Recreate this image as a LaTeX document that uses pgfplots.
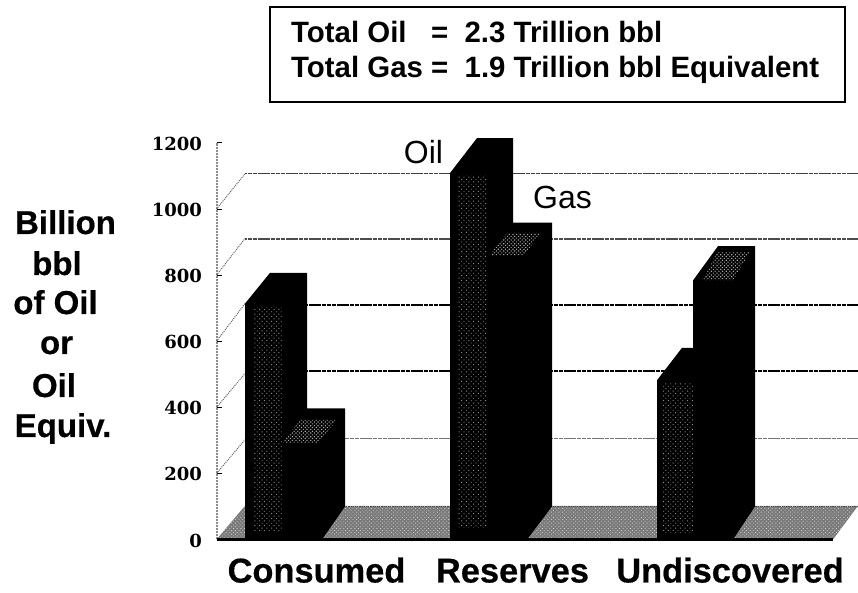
\documentclass[border=0pt]{standalone}
\usepackage{fontspec}
\setmainfont{Liberation Sans}
\newfontfamily\tickfont{DejaVu Serif}
\newfontfamily\heavyfont{Liberation Sans Bold}[FakeBold=0.5]
\usepackage{pgfplots}
\pgfplotsset{compat=1.18}
\usetikzlibrary{patterns.meta}
\pgfplotsset{
  bar solid/.style={draw=none,fill=black,forget plot},
  speckle/.style={draw=none,forget plot,
    pattern={Dots[radius=0.65pt,distance=3.4pt,angle=45]},pattern color=black!45},
  top speckle/.style={draw=none,forget plot,
    pattern={Dots[radius=0.8pt,distance=2.6pt,angle=45]},pattern color=black!35},
  floor speckle/.style={draw=none,forget plot,
    pattern={Dots[radius=0.6pt,distance=2.6pt,angle=45]},pattern color=black!20},
  wall/.style={forget plot,line width=#1,dash pattern=on 2.2pt off 0.35pt},
  stub/.style={forget plot,draw=black!60,line width=1pt,densely dotted},
}
\newcommand{\bigfont}[1]{\fontsize{#1}{#1}\selectfont}
\begin{document}
\begin{tikzpicture}[x=1pt,y=1pt]
\useasboundingbox (0,0) rectangle (858,593);
\begin{axis}[
  at={(216.5pt,53.5pt)},anchor=south west,
  scale only axis,width=641.5pt,height=396.5pt,
  xmin=216.5,xmax=858,ymin=0,ymax=1200,clip=false,
  axis y line*=left,axis x line*=bottom,
  x axis line style={draw=none,-},
  y axis line style={draw=black!45,line width=2pt,densely dotted,-},
  ytick={0,200,400,600,800,1000,1200},
  xtick={316.5,512.5,730},
  xticklabels={Consumed,Reserves,Undiscovered},
  major tick length=5pt,
  every tick/.style={black,line width=1pt},
  x tick style={draw=none},
  /pgf/number format/assume math mode=true,
  /pgf/number format/1000 sep={},
  yticklabel style={font=\tickfont\bfseries\bigfont{18},anchor=east,xshift=-11pt,yshift=-1pt},
  xticklabel style={font=\heavyfont\bigfont{34.4},anchor=base,yshift=-43pt},
]
% side-wall and back-wall gridlines
\addplot[stub] coordinates {(216.5,200)(245,302)};
\addplot[stub] coordinates {(216.5,400)(245,502)};
\addplot[stub] coordinates {(216.5,600)(245,714)};
\addplot[stub] coordinates {(216.5,800)(245,911)};
\addplot[stub] coordinates {(216.5,1000)(245,1107)};
\addplot[wall=0.8pt,draw=black!55] coordinates {(245,306)(858,306)};
\addplot[wall=1.4pt,draw=black] coordinates {(245,510)(858,510)};
\addplot[wall=1.8pt,draw=black] coordinates {(245,710)(858,710)};
\addplot[wall=1.5pt,draw=black!70] coordinates {(245,909)(858,909)};
\addplot[wall=1.3pt,draw=black!75] coordinates {(245,1108)(858,1108)};
% chart floor
\addplot[draw=none,fill=black!52,forget plot] coordinates {(216.5,0)(833,0)(858,102)(245,102)} -- cycle;
\addplot[floor speckle] coordinates {(216.5,0)(833,0)(858,102)(245,102)} -- cycle;
\addplot[forget plot,draw=black!70,line width=1.2pt,densely dotted] coordinates {(245,100)(858,100)};
\addplot[forget plot,draw=black,line width=2.2pt] coordinates {(216.5,0)(833,0)};
% Consumed
\addplot[bar solid] coordinates {(245,0)(245,714)(270,807)(307,807)(307,100)(283,0)} -- cycle;
\addplot[speckle] coordinates {(253,28)(282,28)(282,703)(253,703)} -- cycle;
\addplot[bar solid] coordinates {(283,0)(283,292)(307,397)(345,397)(345,100)(322,0)} -- cycle;
\addplot[top speckle] coordinates {(283,293)(318,293)(337,362)(300,362)} -- cycle;
% Reserves
\addplot[bar solid] coordinates {(450,0)(450,1109)(477,1215)(513,1215)(513,100)(488,0)} -- cycle;
\addplot[speckle] coordinates {(458,35)(487,35)(487,1103)(458,1103)} -- cycle;
\addplot[bar solid] coordinates {(488,0)(488,860)(513,959)(552,959)(552,100)(527,0)} -- cycle;
\addplot[top speckle] coordinates {(490,861)(524,861)(541,928)(507,928)} -- cycle;
% Undiscovered
\addplot[bar solid] coordinates {(657,0)(657,482)(682,580)(718,580)(718,100)(693,0)} -- cycle;
\addplot[speckle] coordinates {(663,20)(693,20)(693,475)(663,475)} -- cycle;
\addplot[bar solid] coordinates {(693,0)(693,784)(718,888)(755,888)(755,100)(733,0)} -- cycle;
\addplot[top speckle] coordinates {(703,785)(733,785)(750,870)(717,870)} -- cycle;
\end{axis}
% series names
\node[font=\bigfont{32}] at (423.5,441) {Oil};
\node[font=\bigfont{32}] at (562.5,396) {Gas};
% vertical title, one centred word per line
\node[anchor=base,font=\heavyfont\bigfont{33}] at (65.5,359) {Billion};
\node[anchor=base,font=\heavyfont\bigfont{33}] at (57,318) {bbl};
\node[anchor=base,font=\heavyfont\bigfont{33}] at (55.5,279) {of Oil};
\node[anchor=base,font=\heavyfont\bigfont{33}] at (56.5,239) {or};
\node[anchor=base,font=\heavyfont\bigfont{33}] at (54,196) {Oil};
\node[anchor=base,font=\heavyfont\bigfont{33}] at (63,156) {Equiv.};
% totals box
\draw[line width=1.1pt] (270,491) rectangle (845,586);
\node[anchor=base west,inner sep=0pt,font=\bfseries\bigfont{29.4}] at (291,550) {Total Oil\ \ \ =\ \ 2.3 Trillion bbl};
\node[anchor=base west,inner sep=0pt,font=\bfseries\bigfont{29.4}] at (291,515) {Total Gas =\ \ 1.9 Trillion bbl Equivalent};
\end{tikzpicture}
\end{document}
